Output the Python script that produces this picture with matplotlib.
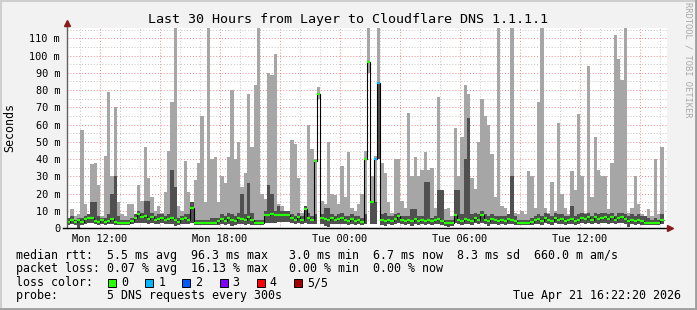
import matplotlib
matplotlib.use('Agg')
import matplotlib.pyplot as plt
import matplotlib.dates as mdates
from matplotlib.patches import Rectangle
from matplotlib.lines import Line2D
from matplotlib.ticker import MultipleLocator, FuncFormatter
import numpy as np
from datetime import datetime, timedelta

# 10 minute samples, 30 hours ending Tue Apr 21 16:22:20 2026
start = datetime(2026, 4, 20, 10, 22, 20)
step = timedelta(minutes=10)

# smoke top (max ping), ms
hi = [6, 11, 7, 8, 57, 14, 6, 37, 38, 25,
      7, 42, 79, 30, 70, 15, 8, 7, 14, 14,
      8, 25, 16, 47, 29, 18, 10, 13, 9, 21,
      45, 73, 116, 13, 10, 39, 21, 15, 28, 38,
      65, 15, 116, 40, 41, 15, 30, 26, 41, 80,
      40, 50, 24, 32, 78, 47, 83, 116, 20, 17,
      90, 89, 101, 14, 13, 9, 8, 51, 49, 29,
      9, 12, 60, 46, 40, 82, 16, 14, 50, 20,
      19, 14, 36, 18, 44, 12, 10, 14, 20, 45,
      116, 30, 42, 116, 38, 32, 15, 9, 40, 40,
      16, 12, 67, 30, 41, 30, 34, 44, 34, 35,
      12, 76, 13, 11, 12, 7, 58, 30, 53, 83,
      78, 29, 23, 50, 75, 65, 60, 43, 18, 116,
      13, 12, 8, 116, 9, 8, 10, 8, 33, 30,
      12, 73, 116, 12, 9, 27, 10, 61, 20, 12,
      8, 33, 22, 66, 30, 9, 94, 18, 53, 34,
      30, 30, 11, 38, 112, 98, 86, 116, 9, 12,
      30, 14, 8, 6, 11, 7, 40, 8, 47]

# inner (dark) smoke top, ms
dk = [6, 7, 5, 6, 6, 7, 8, 15, 15, 7,
      6, 6, 8, 20, 30, 7, 5, 5, 5, 6,
      8, 10, 9, 16, 16, 9, 7, 8, 8, 7,
      8, 34, 24, 6, 7, 8, 8, 15, 5, 5,
      5, 5, 5, 6, 6, 6, 8, 7, 9, 8,
      7, 9, 20, 8, 26, 9, 5, 5, 5, 10,
      25, 20, 10, 13, 10, 10, 10, 8, 7, 9,
      7, 13, 9, 7, 8, 75, 8, 12, 12, 8,
      7, 8, 9, 7, 7, 8, 7, 7, 6, 8,
      90, 15, 15, 84, 8, 9, 7, 7, 8, 9,
      7, 7, 7, 11, 11, 7, 7, 27, 27, 6,
      7, 22, 22, 5, 5, 5, 22, 22, 8, 40,
      64, 8, 9, 8, 10, 8, 7, 8, 7, 7,
      7, 7, 8, 30, 7, 5, 5, 5, 5, 6,
      7, 8, 7, 9, 8, 7, 9, 8, 8, 7,
      7, 13, 7, 8, 9, 8, 9, 7, 9, 8,
      9, 9, 8, 9, 7, 9, 9, 8, 7, 8,
      7, 8, 7, 7, 6, 5, 6, 5, 8]

# smoke bottom (min ping), ms
lo = [2.0, 2.5, 2.0, 0.3, 2.0, 2.5, 3.0, 3.0, 2.5, 2.0,
      2.5, 2.0, 2.5, 2.5, 2.0, 2.0, 2.0, 2.0, 2.0, 2.5,
      3.0, 3.0, 3.0, 3.0, 2.5, 3.0, 2.5, 2.5, 3.0, 2.5,
      2.5, 2.5, 1.5, 2.0, 2.5, 2.5, 2.5, 3.0, 2.0, 2.0,
      2.0, 2.0, 2.0, 2.0, 2.0, 2.0, 2.5, 2.0, 2.5, 1.5,
      2.0, 2.5, 2.5, 2.0, 2.5, 2.0, 2.0, 2.0, 2.0, 3.0,
      3.0, 3.0, 3.0, 3.5, 3.5, 3.5, 3.5, 3.0, 2.5, 3.0,
      2.5, 3.0, 2.5, 2.5, 2.5, 75, 2.5, 1.5, 1.0, 2.5,
      2.5, 2.5, 2.5, 2.5, 2.0, 2.5, 2.0, 2.5, 2.0, 2.5,
      90, 2.5, 2.5, 40, 2.0, 1.5, 2.5, 2.0, 2.5, 3.0,
      2.5, 2.0, 2.5, 1.5, 2.5, 2.0, 2.5, 2.0, 2.5, 2.0,
      2.5, 2.5, 2.0, 1.5, 0.5, 1.5, 3.0, 2.5, 2.0, 2.5,
      2.5, 2.0, 3.0, 2.5, 3.0, 2.5, 1.5, 2.5, 2.5, 2.0,
      2.5, 2.0, 2.5, 2.5, 2.0, 2.0, 2.0, 2.0, 2.0, 2.0,
      2.5, 2.5, 2.0, 3.0, 2.5, 2.0, 3.0, 2.5, 2.5, 2.0,
      2.5, 2.5, 2.0, 2.5, 3.0, 2.5, 3.0, 2.5, 3.0, 2.5,
      3.0, 3.0, 2.5, 3.0, 2.5, 3.0, 3.0, 2.5, 1.0, 2.5,
      2.0, 2.5, 2.0, 2.0, 2.0, 2.0, 2.0, 2.0, 2.5]

# median rtt, ms
med = [3.5, 5.0, 3.5, 5.0, 3.5, 5.5, 6.0, 6.0, 4.0, 3.5,
       5.0, 3.5, 4.5, 5.5, 3.5, 3.3, 3.3, 3.3, 3.3, 4.5,
       6.0, 8.0, 6.5, 7.0, 5.5, 6.5, 5.0, 5.5, 6.0, 5.0,
       5.5, 6.0, 5.0, 3.5, 5.5, 6.0, 5.0, 12.0, 3.3, 3.3,
       3.3, 3.3, 3.3, 3.3, 3.3, 4.5, 5.5, 4.0, 6.0, 5.0,
       4.5, 6.0, 5.5, 5.0, 6.5, 5.0, 3.3, 3.3, 3.3, 7.5,
       7.5, 8.0, 7.5, 7.5, 7.5, 7.5, 7.5, 6.0, 5.0, 6.5,
       5.0, 11.0, 6.0, 5.0, 39.0, 78.0, 6.0, 5.5, 5.0, 6.0,
       5.0, 5.5, 6.0, 5.0, 4.5, 5.5, 4.5, 5.0, 3.5, 40.0,
       96.0, 15.0, 40.0, 84.0, 5.0, 4.0, 5.0, 4.5, 5.5, 7.0,
       5.0, 4.5, 5.0, 4.0, 5.5, 4.5, 5.0, 4.5, 5.0, 4.0,
       5.0, 5.5, 4.5, 3.3, 3.3, 3.3, 7.5, 5.0, 4.5, 5.5,
       5.0, 4.5, 6.0, 5.0, 7.5, 5.0, 4.0, 5.5, 5.0, 4.0,
       5.0, 4.5, 5.5, 5.0, 4.5, 3.3, 3.3, 3.3, 3.3, 3.5,
       5.0, 5.5, 4.5, 6.0, 5.0, 4.5, 6.0, 5.0, 5.5, 4.5,
       5.0, 5.5, 4.5, 5.0, 6.0, 5.5, 6.5, 5.0, 6.5, 5.5,
       6.0, 6.5, 5.5, 6.5, 5.0, 6.0, 6.5, 5.5, 4.5, 5.0,
       4.5, 5.0, 4.0, 3.3, 3.3, 3.3, 3.3, 3.3, 5.0]

# samples with packet loss (1 of 5 lost)
loss_idx = [92, 93]
loss_lvl = [1, 1]

loss_names = ['0', '1', '2', '3', '4', '5/5']
loss_colors = ['#26ff00', '#00b8ff', '#0059ff', '#7e00ff', '#ff0000', '#a10000']

rtt_line = 'median rtt:  5.5 ms avg  96.3 ms max   3.0 ms min  6.7 ms now  8.3 ms sd  660.0 m am/s'
loss_line = 'packet loss: 0.07 % avg  16.13 % max   0.00 % min  0.00 % now'
probe_line = 'probe:       5 DNS requests every 300s'
stamp = 'Tue Apr 21 16:22:20 2026'

W, H = 697, 310
MONO = 'DejaVu Sans Mono'
plt.rcParams['font.family'] = MONO


def fx(x):
    return x / W


def fy(y):
    return 1 - y / H


fig = plt.figure(figsize=(W / 100, H / 100), dpi=100, facecolor='#f2f2f2')
ax = fig.add_axes([fx(67), fy(228.3), 600 / W, 200 / H])
ax.set_facecolor('white')

n = len(med)
t = mdates.date2num([start + step * i for i in range(n)])
w = mdates.date2num(start + step) - mdates.date2num(start)
hi = np.array(hi, float)
dk = np.array(dk, float)
lo = np.array(lo, float)
med = np.array(med, float)

# smoke
ax.bar(t, hi - lo, bottom=lo, width=w, align='edge', color='#a6a6a6', linewidth=0, zorder=2)
ax.bar(t, np.maximum(dk - lo, 0), bottom=lo, width=w, align='edge', color='#505050', linewidth=0, zorder=3)

# median: black steps + coloured segments
edges = np.append(t, t[-1] + w)
ax.stairs(med, edges, baseline=None, color='black', lw=0.8, zorder=4)
seg_colors = [loss_colors[0]] * n
for i, lv in zip(loss_idx, loss_lvl):
    seg_colors[i] = loss_colors[lv]
ax.hlines(med, t, t + w, colors=seg_colors, lw=1.6, zorder=5)

t0 = mdates.date2num(start)
ax.set_xlim(t0, t0 + 30 / 24)
ax.set_ylim(0, 115.8)

# grid
ax.xaxis.set_major_locator(mdates.HourLocator(byhour=range(0, 24, 3)))
ax.xaxis.set_minor_locator(mdates.HourLocator())


def xfmt(v, pos):
    d = mdates.num2date(v)
    return d.strftime('%a %H:%M') if d.hour % 6 == 0 else ''


ax.xaxis.set_major_formatter(FuncFormatter(xfmt))
ax.yaxis.set_major_locator(MultipleLocator(10))
ax.yaxis.set_minor_locator(MultipleLocator(5))
ax.yaxis.set_major_formatter(FuncFormatter(lambda v, p: '0' if v == 0 else f'{int(v)} m'))
ax.grid(which='minor', color='#c4c4c4', lw=0.7, ls=(0, (1, 2)), zorder=1)
ax.grid(which='major', color='#f08a8a', lw=0.7, ls=(0, (1, 2)), zorder=1)
ax.set_axisbelow(True)
ax.tick_params(which='both', length=0, labelsize=7.4, colors='black')
ax.tick_params(axis='x', pad=4)
ax.tick_params(axis='y', pad=5)
for s in ax.spines.values():
    s.set_visible(False)

# axes with arrows
fig.add_artist(Line2D([fx(67), fx(67)], [fy(228.3), fy(23)], color='#606060', lw=1))
fig.add_artist(Line2D([fx(63), fx(670)], [fy(228.3), fy(228.3)], color='black', lw=1))
fig.add_artist(Line2D([fx(67)], [fy(23)], marker='^', ms=5, color='#8b1a1a', lw=0))
fig.add_artist(Line2D([fx(670)], [fy(228.3)], marker='>', ms=5, color='#8b1a1a', lw=0))

# texts
fig.text(fx(348), fy(19), 'Last 30 Hours from Layer to Cloudflare DNS 1.1.1.1',
         ha='center', va='center', fontsize=9.6)
fig.text(fx(10), fy(128), 'Seconds', rotation=90, ha='center', va='center', fontsize=8.4)
fig.text(fx(688), fy(60), 'RRDTOOL / TOBI OETIKER', rotation=270, ha='center', va='center',
         fontsize=6.3, color='#a8a8a8')

fs = 8.4
fig.text(fx(16), fy(255), rtt_line, ha='left', va='center', fontsize=fs)
fig.text(fx(16), fy(268.5), loss_line, ha='left', va='center', fontsize=fs)
fig.text(fx(16), fy(282.5), 'loss color:', ha='left', va='center', fontsize=fs)
fig.text(fx(16), fy(296), probe_line, ha='left', va='center', fontsize=fs)
fig.text(fx(681), fy(296), stamp, ha='right', va='center', fontsize=fs)

for k, (name, col) in enumerate(zip(loss_names, loss_colors)):
    bx = 108 + k * 37.2
    fig.add_artist(Rectangle((fx(bx), fy(287)), fx(8), 8 / H, facecolor=col,
                             edgecolor='black', lw=0.7))
    fig.text(fx(bx + 13), fy(282.5), name, ha='left', va='center', fontsize=fs)

# 3d frame
fig.add_artist(Line2D([0, 1], [fy(0.5), fy(0.5)], color='#cfcfcf', lw=1.5))
fig.add_artist(Line2D([fx(0.5), fx(0.5)], [0, 1], color='#cfcfcf', lw=1.5))
fig.add_artist(Line2D([0, 1], [fy(309), fy(309)], color='#9e9e9e', lw=2))
fig.add_artist(Line2D([fx(696), fx(696)], [0, 1], color='#9e9e9e', lw=2))

fig.savefig('out.png', dpi=100, facecolor=fig.get_facecolor())
